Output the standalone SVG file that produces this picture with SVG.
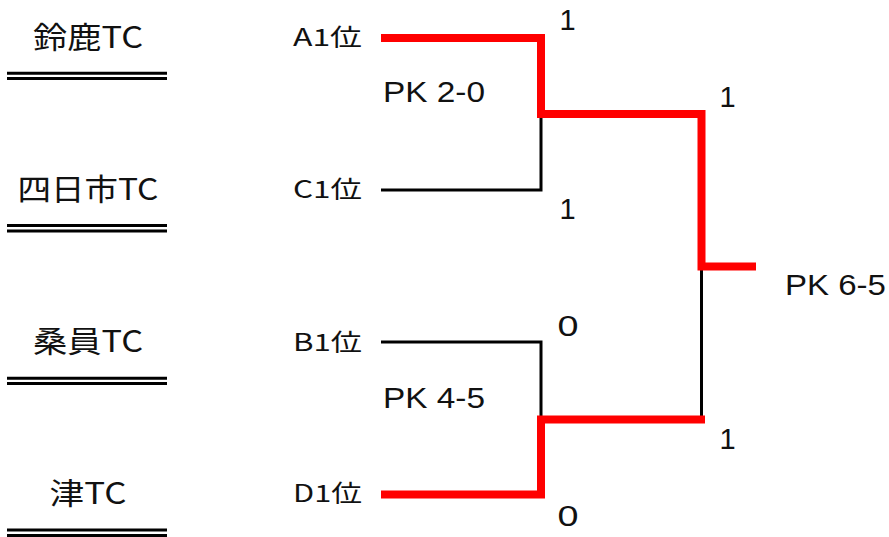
<svg xmlns="http://www.w3.org/2000/svg" width="889" height="537" viewBox="0 0 889 537">
<style>
.team{font-family:"Noto Sans CJK JP","Noto Sans",sans-serif;font-size:30px;fill:#111;text-anchor:middle}
.pos{font-family:"Noto Sans CJK JP","Noto Sans",sans-serif;font-size:24px;fill:#111;text-anchor:end}
.pk{font-family:"Liberation Sans",Arial,sans-serif;font-size:29px;fill:#111}
.num{font-family:"Liberation Sans",Arial,sans-serif;font-size:29px;fill:#111;text-anchor:middle}
.ul{stroke:#000;stroke-width:3;fill:none}
.blk{stroke:#000;stroke-width:3;fill:none}
.win{stroke:#ff0000;stroke-width:8;fill:none;stroke-linejoin:miter;stroke-linecap:butt}
</style>
<rect width="889" height="537" fill="#fff"/>
<g id="team-suzuka">
<text class="team" x="88" y="48" textLength="110" lengthAdjust="spacingAndGlyphs">鈴鹿TC</text>
<path class="ul" d="M7 73.2H167M7 78.5H167"/>
</g>
<g id="team-yokkaichi">
<text class="team" x="88" y="200" textLength="141" lengthAdjust="spacingAndGlyphs">四日市TC</text>
<path class="ul" d="M7 225.5H167M7 231H167"/>
</g>
<g id="team-kuin">
<text class="team" x="88" y="352" textLength="110" lengthAdjust="spacingAndGlyphs">桑員TC</text>
<path class="ul" d="M7 378.2H167M7 383.5H167"/>
</g>
<g id="team-tsu">
<text class="team" x="88" y="504" textLength="77" lengthAdjust="spacingAndGlyphs">津TC</text>
<path class="ul" d="M7 530H167M7 535.5H167"/>
</g>
<g id="pos-a1"><text class="pos" x="362" y="46" textLength="69" lengthAdjust="spacingAndGlyphs">A1位</text></g>
<g id="pos-c1"><text class="pos" x="362" y="198" textLength="69" lengthAdjust="spacingAndGlyphs">C1位</text></g>
<g id="pos-b1"><text class="pos" x="362" y="351" textLength="69" lengthAdjust="spacingAndGlyphs">B1位</text></g>
<g id="pos-d1"><text class="pos" x="362" y="502" textLength="69" lengthAdjust="spacingAndGlyphs">D1位</text></g>
<g id="connectors">
<path class="blk" d="M381 190H541V114"/>
<path class="blk" d="M381 342H541V419"/>
<path class="blk" d="M701.5 266V419"/>
<path class="win" d="M381 38H541V114H701.5V266.5H756"/>
<path class="win" d="M381 494.5H541V419.5H705"/>
</g>
<g id="scores">
<text class="pk" x="383" y="102" textLength="102" lengthAdjust="spacingAndGlyphs">PK 2-0</text>
<text class="pk" x="383" y="408" textLength="102" lengthAdjust="spacingAndGlyphs">PK 4-5</text>
<text class="pk" x="785" y="295" textLength="101" lengthAdjust="spacingAndGlyphs">PK 6-5</text>
<text class="num" x="567.5" y="30">1</text>
<text class="num" x="727.5" y="107">1</text>
<text class="num" x="567.5" y="219">1</text>
<text class="num" x="568" y="336" textLength="21" lengthAdjust="spacingAndGlyphs">0</text>
<text class="num" x="727.5" y="449">1</text>
<text class="num" x="568" y="526" textLength="21" lengthAdjust="spacingAndGlyphs">0</text>
</g>
</svg>
